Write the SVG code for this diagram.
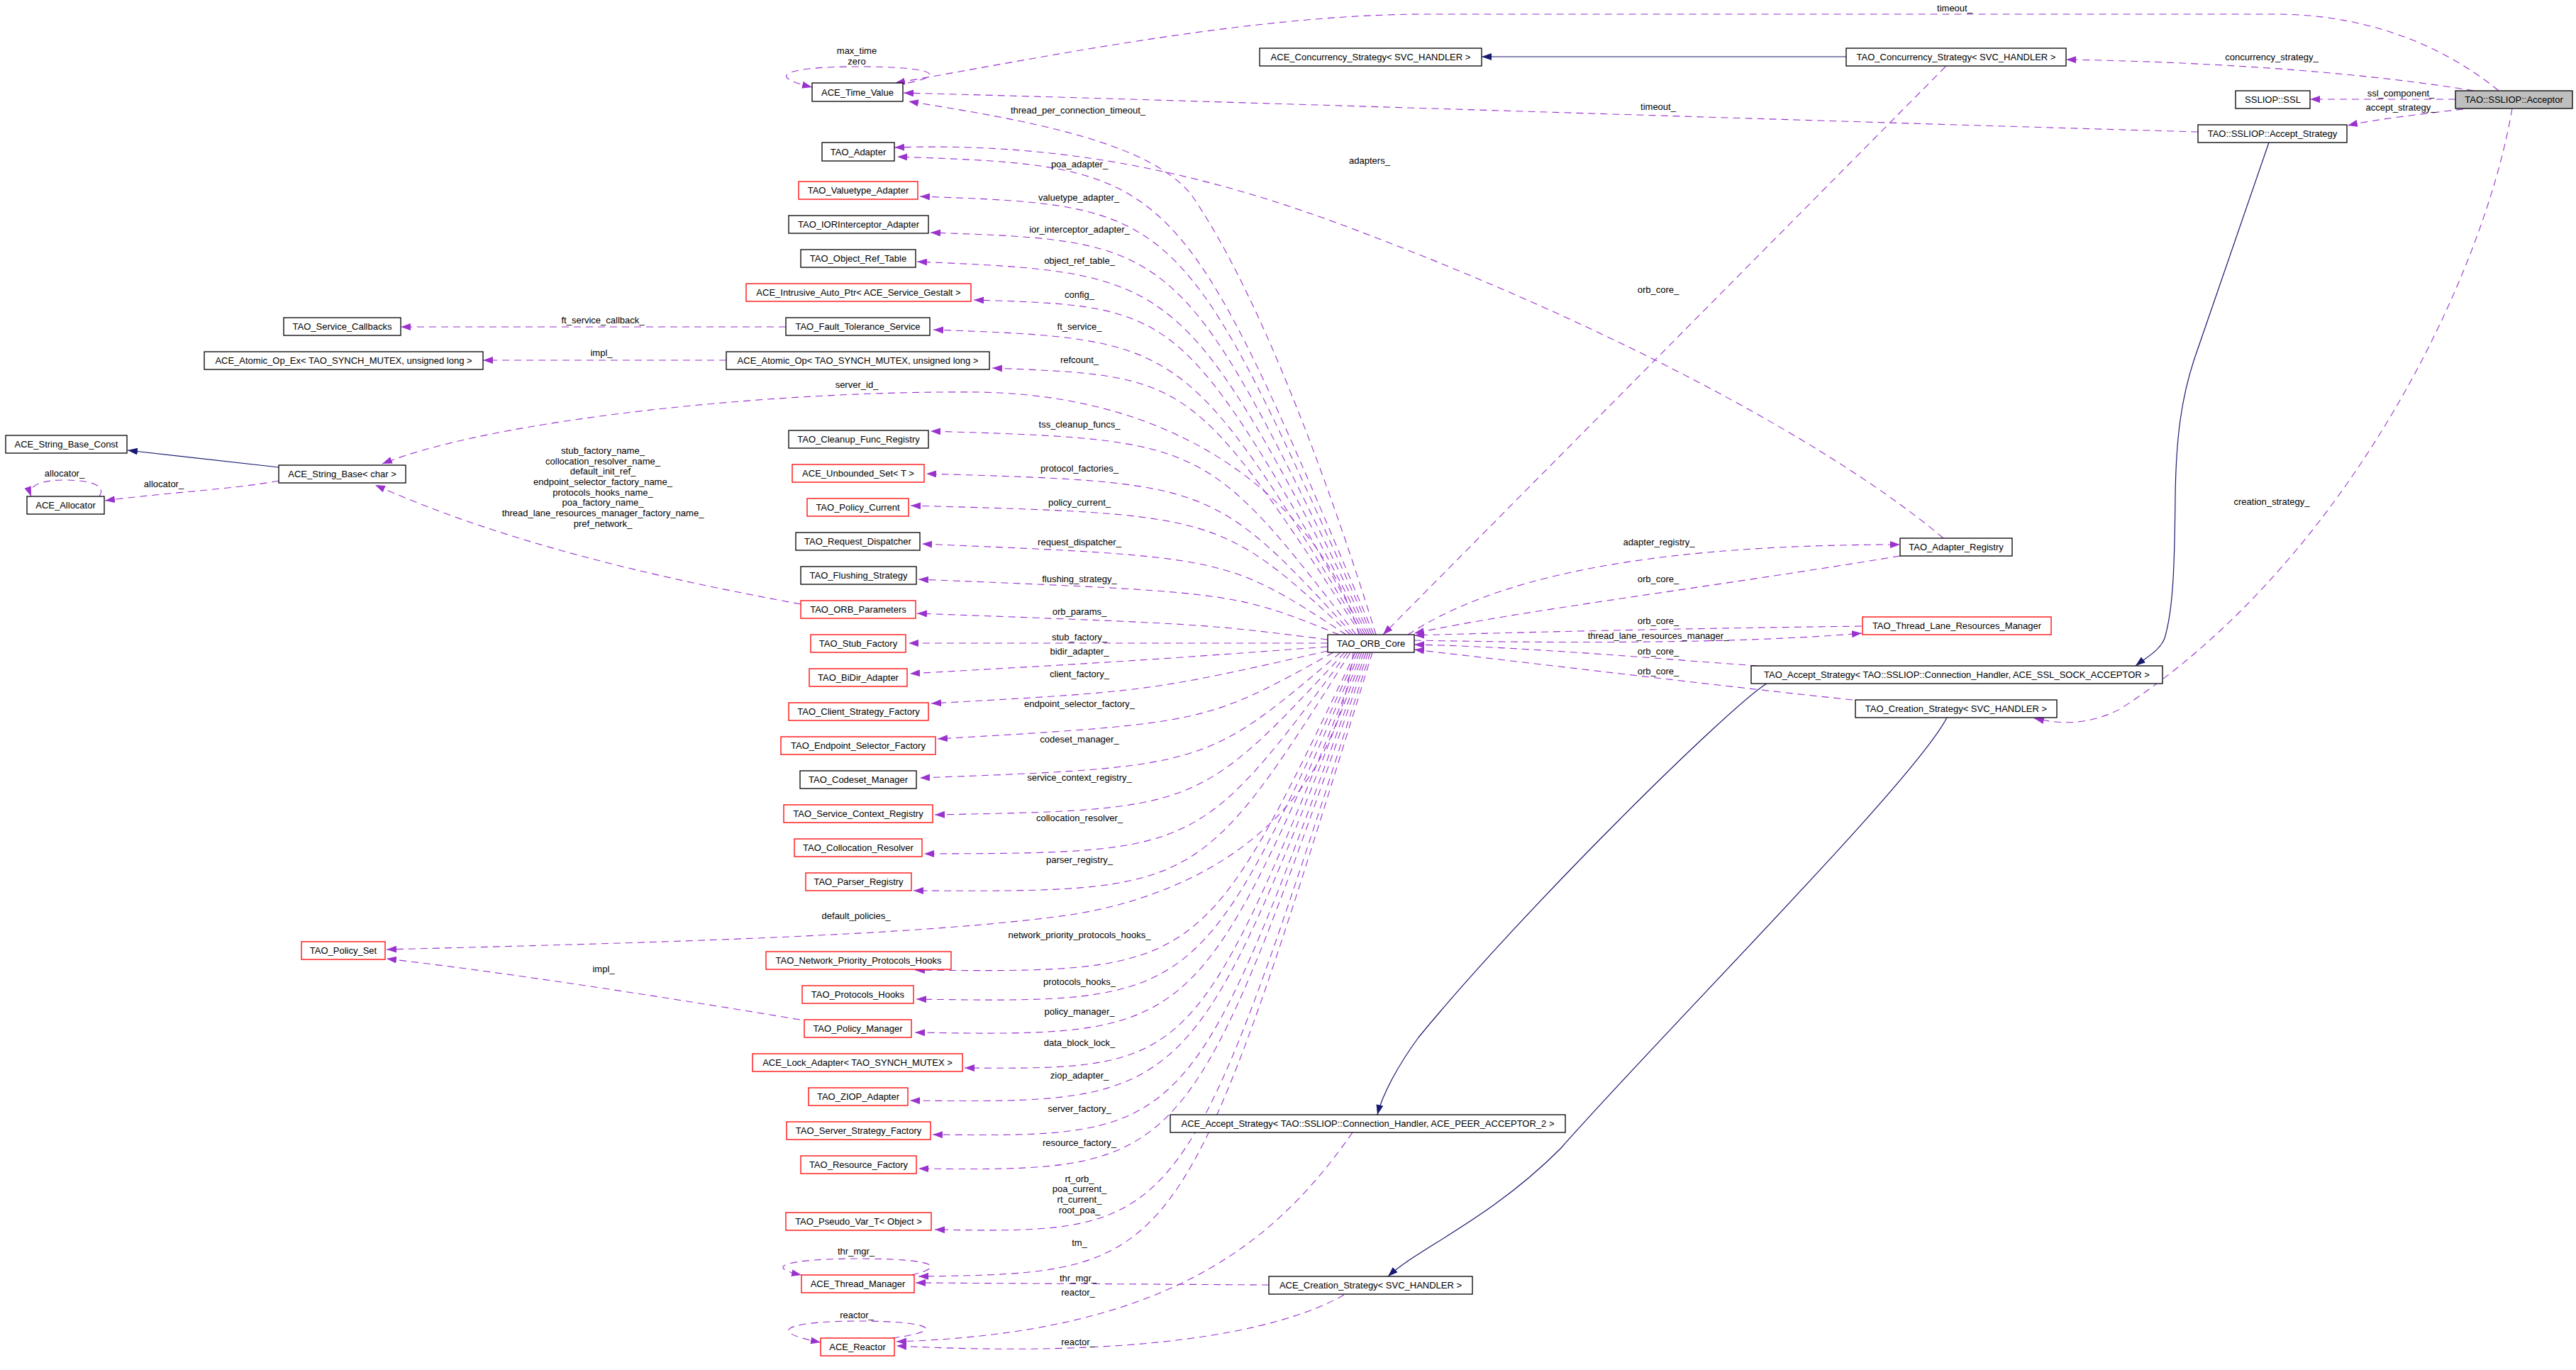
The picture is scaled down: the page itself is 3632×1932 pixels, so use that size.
<svg xmlns="http://www.w3.org/2000/svg" width="3632" height="1932" viewBox="0 0 3632 1932">
<style>
.n rect{fill:#fff;stroke:#000;stroke-width:1.3}
.n.r rect{stroke:#ff0000}
.n.g rect{fill:#bfbfbf}
text{font-family:"Liberation Sans",Arial,sans-serif;font-size:13px;fill:#000;text-anchor:middle}
.e{fill:none;stroke:#9a32cd;stroke-width:1.1;stroke-dasharray:10,7;marker-end:url(#ap)}
.i{fill:none;stroke:#191970;stroke-width:1.2;marker-end:url(#ab)}
</style>
<defs>
<marker id="ap" viewBox="0 0 14 10" refX="14" refY="5" markerWidth="14" markerHeight="10" markerUnits="userSpaceOnUse" orient="auto"><path d="M0,0 L14,5 L0,10 z" fill="#9a32cd"/></marker>
<marker id="ab" viewBox="0 0 14 10" refX="14" refY="5" markerWidth="14" markerHeight="10" markerUnits="userSpaceOnUse" orient="auto"><path d="M0,0 L14,5 L0,10 z" fill="#191970"/></marker>
</defs>
<rect width="3632" height="1932" fill="#fff"/>
<g id="connectors">
<path class="e" d="M3523,128 C3440,60 3330,20 3208,20 L2000,20 C1750,22 1450,85 1262,117"/>
<path class="e" d="M3488,128 C3350,105 3150,88 2913,84"/>
<path class="e" d="M3462,140 L3257,140"/>
<path class="e" d="M3473,154 C3420,160 3350,168 3310,177"/>
<path class="e" d="M3099,186 C2600,172 1700,142 1274,131"/>
<path class="e" d="M2743,94 L1950,895"/>
<path class="e" d="M2740,759 C2600,640 2300,470 1900,320 C1700,245 1500,200 1261,208"/>
<path class="e" d="M1940,895 C1880,700 1780,420 1680,275 C1620,200 1450,170 1281,143"/>
<path class="e" d="M1280,117 C1340,105 1310,94 1210,94 C1120,94 1070,105 1145,123"/>
<path class="e" d="M1937,895 C1660,235 1660,235 1265,221"/>
<path class="e" d="M1934,895 C1665,290 1665,290 1297,277"/>
<path class="e" d="M1931,895 C1665,340 1665,340 1312,328"/>
<path class="e" d="M1928,895 C1665,385 1665,385 1293,369"/>
<path class="e" d="M1925,895 C1665,432 1665,432 1373,423"/>
<path class="e" d="M1922,895 C1670,478 1670,478 1316,465"/>
<path class="e" d="M1108,461 L565,461"/>
<path class="e" d="M1919,895 C1680,530 1680,530 1399,519"/>
<path class="e" d="M1024,508 L681,508"/>
<path class="e" d="M1916,895 C1880,760 1720,560 1383,553 C1100,550 700,590 539,654"/>
<path class="e" d="M1129,852 C900,810 700,760 529,684"/>
<path class="i" d="M393,659 L180,635"/>
<path class="e" d="M393,678 C330,690 230,695 148,706"/>
<path class="e" d="M140,700 C150,685 130,677 90,677 C60,677 38,684 44,700"/>
<path class="e" d="M1912,895 C1700,620 1700,620 1312,608"/>
<path class="e" d="M1908,895 C1710,680 1710,680 1306,668"/>
<path class="e" d="M1904,895 C1720,725 1720,725 1284,713"/>
<path class="e" d="M1898,895 C1730,785 1730,785 1300,767"/>
<path class="e" d="M1888,895 C1740,835 1740,835 1295,817"/>
<path class="e" d="M1872,902 C1700,880 1700,880 1293,865"/>
<path class="e" d="M1872,907 L1281,907"/>
<path class="e" d="M1872,912 C1600,932 1600,932 1283,950"/>
<path class="e" d="M1872,918 C1620,975 1620,975 1313,992"/>
<path class="e" d="M1880,920 C1700,1020 1700,1020 1322,1042"/>
<path class="e" d="M1890,920 C1700,1082 1700,1082 1297,1097"/>
<path class="e" d="M1896,920 C1690,1142 1690,1142 1318,1149"/>
<path class="e" d="M1900,920 C1690,1203 1690,1203 1303,1204"/>
<path class="e" d="M1904,920 C1690,1258 1690,1258 1288,1256"/>
<path class="e" d="M1908,920 C1880,1150 1700,1260 1510,1290 C1300,1320 900,1330 545,1339"/>
<path class="e" d="M1911,920 C1695,1372 1695,1372 1290,1368"/>
<path class="e" d="M1128,1438 C900,1400 700,1370 545,1352"/>
<path class="e" d="M1914,920 C1690,1415 1690,1415 1292,1409"/>
<path class="e" d="M1917,920 C1685,1462 1685,1462 1290,1456"/>
<path class="e" d="M1920,920 C1685,1508 1685,1508 1360,1506"/>
<path class="e" d="M1923,920 C1680,1556 1680,1556 1283,1552"/>
<path class="e" d="M1926,920 C1680,1604 1680,1604 1315,1600"/>
<path class="e" d="M1929,920 C1675,1652 1675,1652 1295,1648"/>
<path class="e" d="M1932,920 C1670,1740 1670,1740 1318,1734"/>
<path class="e" d="M1935,920 C1665,1795 1665,1795 1295,1800"/>
<path class="e" d="M1285,1798 C1340,1785 1310,1775 1210,1775 C1120,1775 1070,1785 1130,1798"/>
<path class="e" d="M1258,1887 C1340,1876 1310,1863 1210,1863 C1120,1863 1070,1876 1157,1893"/>
<path class="e" d="M1789,1812 L1291,1809"/>
<path class="e" d="M1895,1826 C1800,1880 1600,1915 1264,1898"/>
<path class="e" d="M1907,1597 C1800,1750 1650,1880 1264,1892"/>
<path class="e" d="M1985,895 C2100,820 2300,768 2679,768"/>
<path class="e" d="M2679,784 C2400,830 2150,860 1994,893"/>
<path class="e" d="M2625,883 C2400,886 2200,890 1994,896"/>
<path class="e" d="M1994,903 C2200,907 2450,908 2625,893"/>
<path class="e" d="M2478,939 C2350,930 2150,912 1994,909"/>
<path class="e" d="M2612,987 C2450,970 2200,940 1994,916"/>
<path class="e" d="M3542,153 C3500,400 3300,800 2989,1000 C2940,1025 2900,1020 2868,1013"/>
<path class="i" d="M2603,80 L2089,80"/>
<path class="i" d="M3199,201 L3096,500 C3075,560 3068,620 3067,700 C3066,800 3064,860 3052,900 C3045,918 3025,928 3011,939"/>
<path class="i" d="M2491,964 C2440,995 2150,1280 2000,1463 C1975,1497 1950,1540 1942,1572"/>
<path class="i" d="M2745,1012 C2700,1100 2350,1450 2200,1620 C2100,1720 2000,1760 1957,1800"/>
</g>
<g id="edge-labels">
<text x="2756" y="16">timeout_</text>
<text x="3203" y="85">concurrency_strategy_</text>
<text x="3385" y="136">ssl_component_</text>
<text x="3385" y="156">accept_strategy_</text>
<text x="2338" y="155">timeout_</text>
<text x="1208" y="76">max_time</text>
<text x="1208" y="91">zero</text>
<text x="1520" y="160">thread_per_connection_timeout_</text>
<text x="1931" y="231">adapters_</text>
<text x="1522" y="236">poa_adapter_</text>
<text x="1521" y="283">valuetype_adapter_</text>
<text x="1522" y="328">ior_interceptor_adapter_</text>
<text x="2338" y="413">orb_core_</text>
<text x="1522" y="372">object_ref_table_</text>
<text x="1522" y="420">config_</text>
<text x="850" y="456">ft_service_callback_</text>
<text x="1522" y="465">ft_service_</text>
<text x="848" y="502">impl_</text>
<text x="1522" y="512">refcount_</text>
<text x="1208" y="547">server_id_</text>
<text x="1522" y="603">tss_cleanup_funcs_</text>
<text x="850" y="640">stub_factory_name_</text>
<text x="850" y="655">collocation_resolver_name_</text>
<text x="850" y="669">default_init_ref_</text>
<text x="850" y="684">endpoint_selector_factory_name_</text>
<text x="850" y="699">protocols_hooks_name_</text>
<text x="850" y="713">poa_factory_name_</text>
<text x="850" y="728">thread_lane_resources_manager_factory_name_</text>
<text x="850" y="743">pref_network_</text>
<text x="1522" y="665">protocol_factories_</text>
<text x="91" y="672">allocator_</text>
<text x="231" y="687">allocator_</text>
<text x="3203" y="712">creation_strategy_</text>
<text x="1522" y="713">policy_current_</text>
<text x="2339" y="769">adapter_registry_</text>
<text x="1522" y="769">request_dispatcher_</text>
<text x="2338" y="821">orb_core_</text>
<text x="1522" y="821">flushing_strategy_</text>
<text x="1522" y="867">orb_params_</text>
<text x="2338" y="880">orb_core_</text>
<text x="2338" y="901">thread_lane_resources_manager_</text>
<text x="1522" y="903">stub_factory_</text>
<text x="2338" y="923">orb_core_</text>
<text x="1522" y="923">bidir_adapter_</text>
<text x="2338" y="951">orb_core_</text>
<text x="1522" y="955">client_factory_</text>
<text x="1522" y="997">endpoint_selector_factory_</text>
<text x="1522" y="1047">codeset_manager_</text>
<text x="1522" y="1101">service_context_registry_</text>
<text x="1522" y="1158">collocation_resolver_</text>
<text x="1522" y="1217">parser_registry_</text>
<text x="1207" y="1296">default_policies_</text>
<text x="1522" y="1323">network_priority_protocols_hooks_</text>
<text x="851" y="1371">impl_</text>
<text x="1522" y="1389">protocols_hooks_</text>
<text x="1522" y="1431">policy_manager_</text>
<text x="1522" y="1475">data_block_lock_</text>
<text x="1522" y="1521">ziop_adapter_</text>
<text x="1522" y="1568">server_factory_</text>
<text x="1522" y="1616">resource_factory_</text>
<text x="1522" y="1667">rt_orb_</text>
<text x="1522" y="1681">poa_current_</text>
<text x="1522" y="1696">rt_current_</text>
<text x="1522" y="1711">root_poa_</text>
<text x="1522" y="1757">tm_</text>
<text x="1207" y="1769">thr_mgr_</text>
<text x="1520" y="1807">thr_mgr_</text>
<text x="1520" y="1827">reactor_</text>
<text x="1208" y="1859">reactor_</text>
<text x="1520" y="1897">reactor_</text>
</g>
<g id="n_acceptor" class="n g"><rect x="3462" y="128" width="165" height="25"/><text x="3544.5" y="145">TAO::SSLIOP::Acceptor</text></g>
<g id="n_ssl" class="n"><rect x="3152" y="128" width="105" height="25"/><text x="3204.5" y="145">SSLIOP::SSL</text></g>
<g id="n_accept_strategy" class="n"><rect x="3099" y="176" width="210" height="25"/><text x="3204" y="193">TAO::SSLIOP::Accept_Strategy</text></g>
<g id="n_tao_conc" class="n"><rect x="2603" y="68" width="310" height="25"/><text x="2758" y="85">TAO_Concurrency_Strategy&lt; SVC_HANDLER &gt;</text></g>
<g id="n_ace_conc" class="n"><rect x="1776" y="68" width="313" height="25"/><text x="1932.5" y="85">ACE_Concurrency_Strategy&lt; SVC_HANDLER &gt;</text></g>
<g id="n_time" class="n"><rect x="1145" y="117" width="128" height="26"/><text x="1209" y="134.5">ACE_Time_Value</text></g>
<g id="n_adapter" class="n"><rect x="1159" y="201" width="102" height="26"/><text x="1210" y="218.5">TAO_Adapter</text></g>
<g id="n_valuetype" class="n r"><rect x="1126" y="256" width="168" height="25"/><text x="1210" y="273">TAO_Valuetype_Adapter</text></g>
<g id="n_ior" class="n"><rect x="1112" y="304" width="197" height="25"/><text x="1210.5" y="321">TAO_IORInterceptor_Adapter</text></g>
<g id="n_objref" class="n"><rect x="1129" y="352" width="162" height="25"/><text x="1210" y="369">TAO_Object_Ref_Table</text></g>
<g id="n_intrusive" class="n r"><rect x="1052" y="400" width="317" height="25"/><text x="1210.5" y="417">ACE_Intrusive_Auto_Ptr&lt; ACE_Service_Gestalt &gt;</text></g>
<g id="n_ft" class="n"><rect x="1108" y="448" width="203" height="25"/><text x="1209.5" y="465">TAO_Fault_Tolerance_Service</text></g>
<g id="n_callbacks" class="n"><rect x="400" y="448" width="165" height="25"/><text x="482.5" y="465">TAO_Service_Callbacks</text></g>
<g id="n_atomic" class="n"><rect x="1024" y="496" width="371" height="25"/><text x="1209.5" y="513">ACE_Atomic_Op&lt; TAO_SYNCH_MUTEX, unsigned long &gt;</text></g>
<g id="n_atomic_ex" class="n"><rect x="288" y="496" width="393" height="25"/><text x="484.5" y="513">ACE_Atomic_Op_Ex&lt; TAO_SYNCH_MUTEX, unsigned long &gt;</text></g>
<g id="n_strbase_const" class="n"><rect x="8" y="614" width="171" height="25"/><text x="93.5" y="631">ACE_String_Base_Const</text></g>
<g id="n_strbase" class="n"><rect x="393" y="656" width="179" height="25"/><text x="482.5" y="673">ACE_String_Base&lt; char &gt;</text></g>
<g id="n_allocator" class="n"><rect x="38" y="700" width="109" height="25"/><text x="92.5" y="717">ACE_Allocator</text></g>
<g id="n_cleanup" class="n"><rect x="1112" y="607" width="197" height="25"/><text x="1210.5" y="624">TAO_Cleanup_Func_Registry</text></g>
<g id="n_unbounded" class="n r"><rect x="1117" y="655" width="186" height="25"/><text x="1210" y="672">ACE_Unbounded_Set&lt; T &gt;</text></g>
<g id="n_polcur" class="n r"><rect x="1138" y="703" width="143" height="25"/><text x="1209.5" y="720">TAO_Policy_Current</text></g>
<g id="n_reqdisp" class="n"><rect x="1122" y="751" width="175" height="25"/><text x="1209.5" y="768">TAO_Request_Dispatcher</text></g>
<g id="n_flush" class="n"><rect x="1129" y="799" width="163" height="25"/><text x="1210.5" y="816">TAO_Flushing_Strategy</text></g>
<g id="n_orbparams" class="n r"><rect x="1129" y="847" width="162" height="25"/><text x="1210" y="864">TAO_ORB_Parameters</text></g>
<g id="n_stubfac" class="n r"><rect x="1143" y="895" width="134" height="25"/><text x="1210" y="912">TAO_Stub_Factory</text></g>
<g id="n_bidir" class="n r"><rect x="1141" y="943" width="138" height="25"/><text x="1210" y="960">TAO_BiDir_Adapter</text></g>
<g id="n_clientfac" class="n r"><rect x="1112" y="991" width="197" height="25"/><text x="1210.5" y="1008">TAO_Client_Strategy_Factory</text></g>
<g id="n_endpoint" class="n r"><rect x="1101" y="1039" width="218" height="25"/><text x="1210" y="1056">TAO_Endpoint_Selector_Factory</text></g>
<g id="n_codeset" class="n"><rect x="1128" y="1087" width="164" height="25"/><text x="1210" y="1104">TAO_Codeset_Manager</text></g>
<g id="n_svcctx" class="n r"><rect x="1105" y="1135" width="210" height="25"/><text x="1210" y="1152">TAO_Service_Context_Registry</text></g>
<g id="n_colloc" class="n r"><rect x="1120" y="1183" width="180" height="25"/><text x="1210" y="1200">TAO_Collocation_Resolver</text></g>
<g id="n_parser" class="n r"><rect x="1136" y="1231" width="149" height="25"/><text x="1210.5" y="1248">TAO_Parser_Registry</text></g>
<g id="n_policyset" class="n r"><rect x="425" y="1328" width="118" height="25"/><text x="484" y="1345">TAO_Policy_Set</text></g>
<g id="n_netprio" class="n r"><rect x="1080" y="1342" width="261" height="25"/><text x="1210.5" y="1359">TAO_Network_Priority_Protocols_Hooks</text></g>
<g id="n_prothooks" class="n r"><rect x="1131" y="1390" width="157" height="25"/><text x="1209.5" y="1407">TAO_Protocols_Hooks</text></g>
<g id="n_polmgr" class="n r"><rect x="1134" y="1438" width="151" height="25"/><text x="1209.5" y="1455">TAO_Policy_Manager</text></g>
<g id="n_lock" class="n r"><rect x="1061" y="1486" width="296" height="25"/><text x="1209" y="1503">ACE_Lock_Adapter&lt; TAO_SYNCH_MUTEX &gt;</text></g>
<g id="n_ziop" class="n r"><rect x="1140" y="1534" width="140" height="25"/><text x="1210" y="1551">TAO_ZIOP_Adapter</text></g>
<g id="n_serverfac" class="n r"><rect x="1109" y="1582" width="203" height="25"/><text x="1210.5" y="1599">TAO_Server_Strategy_Factory</text></g>
<g id="n_resfac" class="n r"><rect x="1129" y="1630" width="163" height="25"/><text x="1210.5" y="1647">TAO_Resource_Factory</text></g>
<g id="n_pseudo" class="n r"><rect x="1108" y="1710" width="205" height="25"/><text x="1210.5" y="1727">TAO_Pseudo_Var_T&lt; Object &gt;</text></g>
<g id="n_thrmgr" class="n r"><rect x="1130" y="1798" width="159" height="25"/><text x="1209.5" y="1815">ACE_Thread_Manager</text></g>
<g id="n_reactor" class="n r"><rect x="1157" y="1887" width="104" height="25"/><text x="1209" y="1904">ACE_Reactor</text></g>
<g id="n_orbcore" class="n"><rect x="1872" y="895" width="122" height="25"/><text x="1933" y="912">TAO_ORB_Core</text></g>
<g id="n_adreg" class="n"><rect x="2679" y="759" width="158" height="25"/><text x="2758" y="776">TAO_Adapter_Registry</text></g>
<g id="n_tlrm" class="n r"><rect x="2626" y="870" width="266" height="25"/><text x="2759" y="887">TAO_Thread_Lane_Resources_Manager</text></g>
<g id="n_tas" class="n"><rect x="2469" y="939" width="580" height="25"/><text x="2759" y="956">TAO_Accept_Strategy&lt; TAO::SSLIOP::Connection_Handler, ACE_SSL_SOCK_ACCEPTOR &gt;</text></g>
<g id="n_tcs" class="n"><rect x="2616" y="987" width="284" height="25"/><text x="2758" y="1004">TAO_Creation_Strategy&lt; SVC_HANDLER &gt;</text></g>
<g id="n_aas" class="n"><rect x="1650" y="1572" width="557" height="25"/><text x="1928.5" y="1589">ACE_Accept_Strategy&lt; TAO::SSLIOP::Connection_Handler, ACE_PEER_ACCEPTOR_2 &gt;</text></g>
<g id="n_acs" class="n"><rect x="1789" y="1800" width="287" height="25"/><text x="1932.5" y="1817">ACE_Creation_Strategy&lt; SVC_HANDLER &gt;</text></g>
</svg>
